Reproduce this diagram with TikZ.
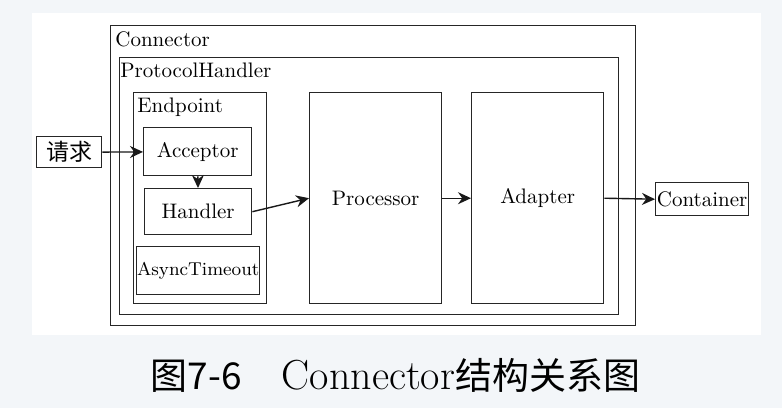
\documentclass[tikz,border=0pt]{standalone}
\usepackage{fontspec}
\newfontfamily\cjk{Noto Sans CJK SC}
\usetikzlibrary{arrows.meta}
\definecolor{pagebg}{RGB}{243,246,249}

\begin{document}
\begin{tikzpicture}[x=0.5pt,y=-0.5pt]
        \tikzstyle{box}=[draw=black!85,line width=0.7pt,anchor=north west,inner sep=0pt,font=\fontsize{10.5}{12}\selectfont]
        \tikzstyle{title}=[anchor=north west,inner xsep=2pt,inner ysep=3pt,font=\fontsize{10.5}{12}\selectfont]
        \tikzstyle{arr}=[-{Stealth[length=6.5pt,width=6pt]},line width=0.7pt,draw=black!90]
        \fill[pagebg] (0,0) rectangle (782,408);
        \fill[white] (32,13) rectangle (761,335);
        \useasboundingbox (0,0) rectangle (782,408);

        \node[box,minimum width=262.5pt,minimum height=150pt] (connector) at (110,25) {};
        \node[title,inner xsep=2.5pt] (connectortitle) at (connector.north west) {Connector};
        \node[box,minimum width=249.5pt,minimum height=128.5pt] (handlerproto) at (119,57) {};
        \node[title,inner xsep=0.5pt] (handlerprototitle) at (handlerproto.north west) {ProtocolHandler};
        \node[box,minimum width=66.5pt,minimum height=105.5pt] (endpoint) at (133,92) {};
        \node[title] (endpointtitle) at (endpoint.north west) {Endpoint};

        \node[box,minimum width=54pt,minimum height=24pt] (acceptor) at (143,127) {Acceptor};
        \node[box,minimum width=53.5pt,minimum height=23pt] (handler) at (144,188) {Handler};
        \node[box,minimum width=61.5pt,minimum height=24pt,font=\fontsize{9.3}{11}\selectfont] (async) at (136,246) {AsyncTimeout};
        \node[box,minimum width=66pt,minimum height=105.5pt] (processor) at (309,92) {Processor};
        \node[box,minimum width=66pt,minimum height=105.5pt] (adapter) at (471,92) {Adapter};
        \node[box,minimum width=32.5pt,minimum height=15.5pt,font=\cjk\fontsize{11.5}{13}\selectfont] (request) at (36,136) {请求};
        \node[box,minimum width=46.5pt,minimum height=16.5pt] (container) at (655,182) {Container};

        \draw[arr] (request) -- (acceptor);
        \draw[arr] (acceptor) -- (handler);
        \draw[arr] (handler.east) -- (processor.west);
        \draw[arr] (processor) -- (adapter);
        \draw[arr] (adapter.east) -- (container.west);

        \node[anchor=base] (caption) at (395.5,389) {{\cjk\fontsize{18.5}{20}\selectfont 图7-6}\hspace{20pt}{\fontsize{21}{24}\selectfont Connector}{\cjk\fontsize{18.5}{20}\selectfont 结构关系图}};
\end{tikzpicture}
\end{document}
